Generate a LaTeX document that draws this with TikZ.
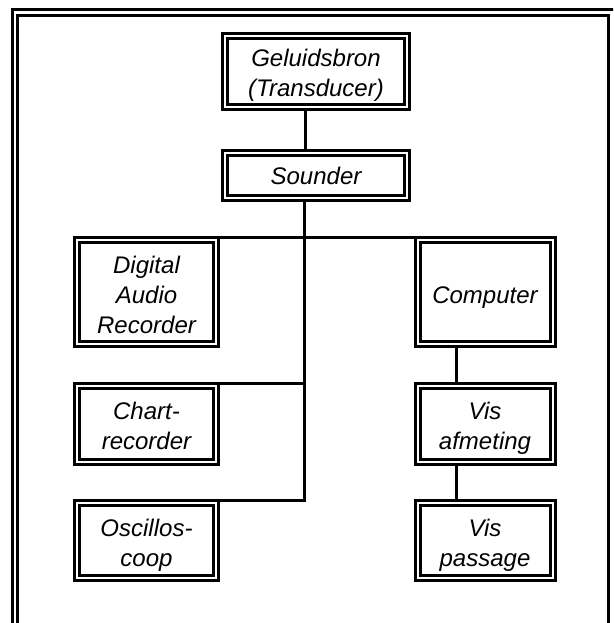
\documentclass[tikz,border=0pt]{standalone}
\usepackage{fontspec}
\setmainfont{Liberation Sans}
\usetikzlibrary{calc}
\newcommand{\boxtext}[2][5pt]{\raisebox{-#1}[\height][\depth]{\begin{tabular}{@{}c@{}}#2\end{tabular}}}
\begin{document}
\begin{tikzpicture}[x=1pt,y=-1pt,
  box/.style={draw, double, line width=3pt, double distance=2pt, outer sep=0pt,
    inner sep=0pt, font=\fontsize{24}{30}\selectfont\itshape},
  frame/.style={line width=3pt},
  link/.style={line width=3pt, line join=miter}]
\useasboundingbox (0,0) rectangle (613,623);
\begin{scope}
\clip (0,0) rectangle (613,623);
\draw[frame] (12.5,9.5) rectangle (616,680);
\draw[frame] (17.5,15.5) rectangle (608.5,680);
\end{scope}
% top column
\node[box, minimum width=182pt, minimum height=71pt] (geluid) at (316,71.5) {\boxtext[4pt]{Geluidsbron\\(Transducer)}};
\node[box, minimum width=182pt, minimum height=45pt] (sounder) at (316,175) {\boxtext[3pt]{Sounder}};
% left column
\node[box, minimum width=139pt, minimum height=104pt] (digital) at (146.5,292) {\boxtext{Digital\\Audio\\Recorder}};
\node[box, minimum width=139pt, minimum height=76pt] (chart) at (146.5,423.5) {\boxtext{Chart-\\recorder}};
\node[box, minimum width=139pt, minimum height=75pt] (oscillo) at (146.5,540) {\boxtext{Oscillos-\\coop}};
% right column
\node[box, minimum width=135pt, minimum height=104pt] (computer) at (485,292) {\boxtext{Computer}};
\node[box, minimum width=135pt, minimum height=76pt] (visafm) at (485,423.5) {\boxtext{Vis\\afmeting}};
\node[box, minimum width=135pt, minimum height=75pt] (vispas) at (485,540) {\boxtext{Vis\\passage}};
% connector guides
\coordinate (tx) at (304.5,0);
\coordinate (gx) at (305,0);
\coordinate (cx) at (456,0);
\coordinate (dj) at ($(digital.north east)+(2.5,-2.5)$);
\coordinate (cj) at ($(computer.north west)+(-2.5,-2.5)$);
\coordinate (chj) at ($(chart.north east)+(2.5,-2.5)$);
\coordinate (oj) at ($(oscillo.north east)+(2.5,-2.5)$);
% connectors
\draw[link, shorten <=2.5pt, shorten >=2.5pt] (geluid.south -| gx) -- (sounder.north -| gx);
\draw[link, shorten <=2.5pt] (sounder.south -| tx) -- (oj -| tx) -- (oj);
\draw[link] (dj) -- (cj);
\draw[link] (chj) -- (chj -| tx);
\draw[link, shorten <=2.5pt, shorten >=2.5pt] (computer.south -| cx) -- (visafm.north -| cx);
\draw[link, shorten <=2.5pt, shorten >=2.5pt] (visafm.south -| cx) -- (vispas.north -| cx);
\end{tikzpicture}
\end{document}
